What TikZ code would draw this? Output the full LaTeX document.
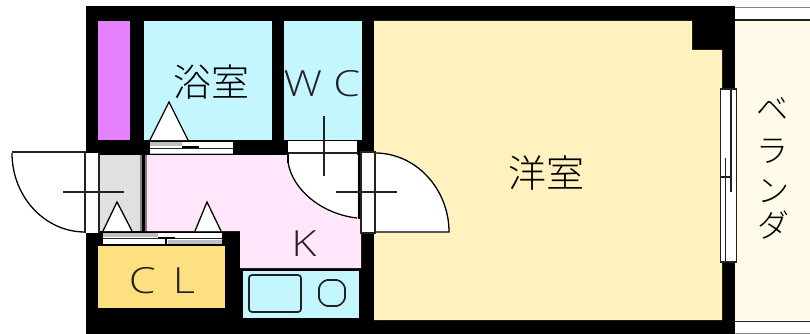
\documentclass[tikz,border=0pt]{standalone}
\usepackage{fontspec}
\setmainfont{Liberation Sans}
\newfontfamily\cjkfont[UprightFont={* Light}]{Noto Sans CJK JP}
\newfontfamily\latinfont[UprightFont={* Light}]{Open Sans}
\definecolor{bathcyan}{HTML}{C4F6FF}
\definecolor{closetpink}{HTML}{E680FF}
\definecolor{roomyellow}{HTML}{FFF2BF}
\definecolor{kitchenpink}{HTML}{FFE6FA}
\definecolor{entrygray}{HTML}{E0E0E0}
\definecolor{clyellow}{HTML}{FFE080}
\definecolor{balconycream}{HTML}{FFFBE8}
\definecolor{linegray}{HTML}{222222}
\tikzset{
  thinline/.style={draw=linegray, line width=1.3pt},
  doorleaf/.style={draw=black, fill=white, line width=1.3pt},
  sinkline/.style={draw=linegray, line width=1.7pt},
  roomlabel/.style={inner sep=0pt, text height=33pt, text depth=5pt, font=\cjkfont\fontsize{38}{38}\selectfont},
  kanalabel/.style={inner sep=0pt, text height=28pt, text depth=4pt, font=\cjkfont\fontsize{32}{32}\selectfont},
  latinlabel/.style={inner sep=0pt, text height=26pt, text depth=0pt, text=linegray, xscale=1.2, transform shape, font=\latinfont\fontsize{36}{36}\selectfont}
}
\begin{document}
\begin{tikzpicture}[x=1pt, y=-1pt]
  \useasboundingbox (0,0) rectangle (810,334);

  % walls
  \fill[black] (86,6) rectangle (735,334);

  % balcony
  \fill[balconycream] (735,21) rectangle (810,320);
  \fill[white] (735,8) rectangle (810,19);
  \fill[white] (735,323) rectangle (810,333);
  \draw[thinline] (735,20) -- (810,20);
  \draw[thinline] (735,321.5) -- (810,321.5);
  \draw[draw=gray, line width=0.6pt] (735,7) -- (810,7);
  \draw[draw=gray, line width=0.6pt] (735,333) -- (810,333);

  % rooms
  \fill[closetpink] (98,21) rectangle (130,140);
  \fill[bathcyan] (144,21) rectangle (272,140);
  \fill[bathcyan] (284,21) rectangle (362,140);
  \fill[roomyellow] (374,21) -- (692,21) -- (692,50) -- (722,50) -- (722,320) -- (374,320) -- cycle;
  \fill[kitchenpink] (147,155) -- (361,155) -- (361,268) -- (240,268) -- (240,231) -- (147,231) -- cycle;
  \fill[entrygray] (100,155) rectangle (141,231);
  \draw[draw=gray, line width=1.6pt] (141,155) -- (141,231);
  \draw[draw=gray, line width=1.6pt] (146,155) -- (146,231);
  \fill[clyellow] (98,246) rectangle (225,308);

  % kitchen unit
  \fill[bathcyan] (243,271) rectangle (359,318);
  \draw[sinkline, rounded corners=3pt] (249,275) rectangle (301,312);
  \draw[sinkline, rounded corners=2pt] (325,280) -- (339,280) -- (345,286) -- (345,300) -- (339,306) -- (325,306) -- (319,300) -- (319,286) -- cycle;

  % entrance door
  \fill[white] (12,153) .. controls (12,197) and (45,232) .. (85,232) -- (85,153) -- cycle;
  \draw[thinline] (12,152) -- (86,152);
  \draw[doorleaf, fill=none] (12,153) .. controls (12,197) and (45,232) .. (85,232);
  \fill[white] (85,153) rectangle (99,233);
  \draw[thinline] (85,153) -- (85,233);
  \draw[thinline] (99,153) -- (99,233);
  \draw[thinline] (63,192) -- (124,192);

  % wc door
  \fill[white] (288,141) rectangle (357,153);
  \fill[white] (288,153) .. controls (288,189) and (321,218) .. (357,218) -- (357,153) -- cycle;
  \draw[thinline] (288,153) -- (358,153);
  \draw[doorleaf, fill=none] (288,162) .. controls (292,189) and (321,214) .. (357,218);
  \draw[black, line width=3pt] (359.5,153) -- (359.5,219);
  \draw[black, line width=2pt] (288,153) -- (288,163);
  \draw[thinline] (324,116) -- (324,176);

  % room door
  \fill[white] (375,153) .. controls (416,153) and (449,189) .. (449,232) -- (375,232) -- cycle;
  \draw[doorleaf, fill=none] (375,153) .. controls (416,153) and (449,189) .. (449,232) -- (375,232);
  \fill[white] (361,152) rectangle (375,233);
  \draw[thinline] (361,152) rectangle (375,233);
  \draw[thinline] (336,192) -- (397,192);

  % sliding door bath
  \draw[doorleaf] (150,140) -- (169,102) -- (188,140);
  \fill[white] (150,142) rectangle (233,153);
  \fill[lightgray] (150,142) rectangle (182,146);
  \draw[linegray, line width=1pt] (150,148) -- (233,148);
  \draw[black, line width=2.4pt] (182,147) -- (199,147);
  \draw[lightgray, line width=1pt] (150,153) -- (233,153);

  % sliding door closet
  \filldraw[doorleaf] (103,231) -- (117,202) -- (132,231);
  \filldraw[doorleaf] (195,231) -- (207,202) -- (221,231);
  \fill[white] (103,233) rectangle (222,244);
  \fill[lightgray] (103,233) rectangle (158,237);
  \fill[lightgray] (168,240) rectangle (222,244);
  \draw[linegray, line width=1pt] (103,238.5) -- (222,238.5);
  \draw[black, line width=2.4pt] (158,238) -- (175,238);
  \draw[black, line width=1.2pt] (166,238) -- (166,244);

  % window
  \fill[white] (720,89) rectangle (737,262);
  \draw[thinline] (720.5,89) rectangle (736.5,262);
  \draw[thinline] (725.5,158) -- (725.5,262);
  \draw[thinline] (731,89) -- (731,192);
  \draw[thinline] (720,177) -- (731,177);

  % names of rooms
  \node[roomlabel] (bath) at (211,83) {浴室};
  \node[roomlabel] (western) at (546,173) {洋室};
  \node[latinlabel] (wc) at (322,83) {W C};
  \node[latinlabel] (closet) at (162,280) {C\hspace{5pt} L};
  \node[latinlabel] (kitchen) at (304,243) {K};

  % balcony text
  \node[kanalabel] (kanaA) at (772,109) {ベ};
  \node[kanalabel] (kanaB) at (772,150) {ラ};
  \node[kanalabel] (kanaC) at (773,190) {ン};
  \node[kanalabel] (kanaD) at (773,225) {ダ};

\end{tikzpicture}
\end{document}
